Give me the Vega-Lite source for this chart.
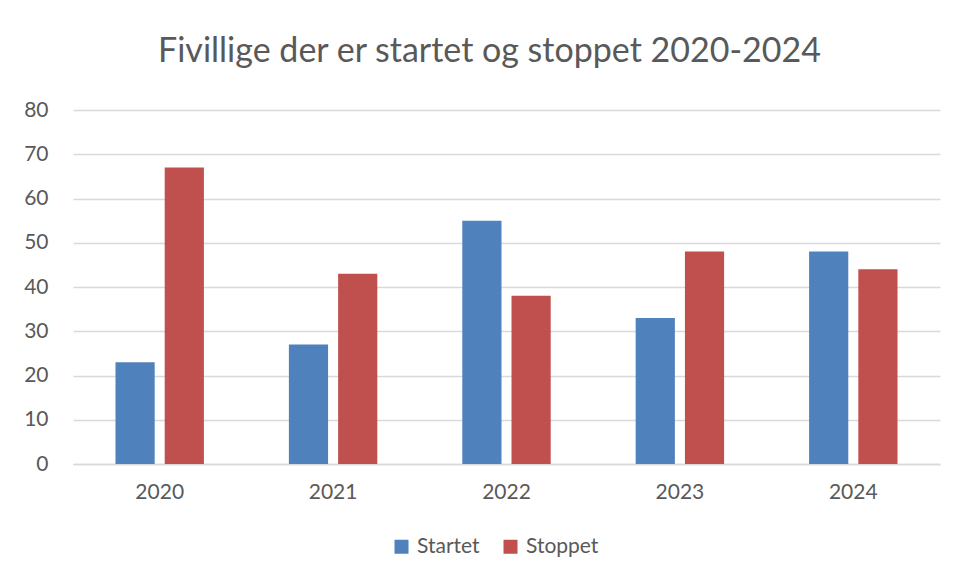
{
  "$schema": "https://vega.github.io/schema/vega-lite/v6.json",
  "width": 867,
  "height": 354,
  "autosize": {"type": "none"},
  "padding": {"left": 73, "top": 110, "right": 16, "bottom": 113},
  "background": "white",
  "title": {
    "text": "Fivillige der er startet og stoppet 2020-2024",
    "font": "Lato",
    "fontSize": 34,
    "fontWeight": "normal",
    "color": "#595959",
    "anchor": "middle",
    "dx": -17,
    "offset": 30
  },
  "data": {
    "values": [
      {"year": "2020", "serie": "Startet", "value": 23},
      {"year": "2020", "serie": "Stoppet", "value": 67},
      {"year": "2021", "serie": "Startet", "value": 27},
      {"year": "2021", "serie": "Stoppet", "value": 43},
      {"year": "2022", "serie": "Startet", "value": 55},
      {"year": "2022", "serie": "Stoppet", "value": 38},
      {"year": "2023", "serie": "Startet", "value": 33},
      {"year": "2023", "serie": "Stoppet", "value": 48},
      {"year": "2024", "serie": "Startet", "value": 48},
      {"year": "2024", "serie": "Stoppet", "value": 44}
    ]
  },
  "mark": {"type": "bar"},
  "encoding": {
    "x": {
      "field": "year",
      "type": "nominal",
      "scale": {"paddingInner": 0.49, "paddingOuter": 0.245},
      "axis": {
        "title": null,
        "labelAngle": 0,
        "labelFont": "Lato",
        "labelFontSize": 21,
        "labelColor": "#595959",
        "labelPadding": 17,
        "ticks": false,
        "domainColor": "#D9D9D9",
        "domainWidth": 1.5
      }
    },
    "xOffset": {
      "field": "serie",
      "type": "nominal",
      "scale": {"paddingInner": 0.204, "paddingOuter": 0}
    },
    "y": {
      "field": "value",
      "type": "quantitative",
      "scale": {"domain": [0, 80], "nice": false},
      "axis": {
        "title": null,
        "values": [0, 10, 20, 30, 40, 50, 60, 70, 80],
        "labelFont": "Lato",
        "labelFontSize": 21,
        "labelColor": "#595959",
        "labelPadding": 25,
        "ticks": false,
        "domain": false,
        "gridColor": "#D9D9D9",
        "gridWidth": 1.3
      }
    },
    "color": {
      "field": "serie",
      "type": "nominal",
      "scale": {"domain": ["Startet", "Stoppet"], "range": ["#4F81BD", "#C0504D"]},
      "legend": {
        "title": null,
        "orient": "none",
        "direction": "horizontal",
        "legendX": 318,
        "legendY": 426,
        "symbolType": "square",
        "symbolSize": 196,
        "symbolStrokeWidth": 0,
        "symbolOpacity": 1,
        "labelFont": "Lato",
        "labelFontSize": 21,
        "labelColor": "#595959",
        "labelOffset": 5,
        "columnPadding": 20
      }
    }
  },
  "config": {
    "view": {"stroke": null}
  }
}
